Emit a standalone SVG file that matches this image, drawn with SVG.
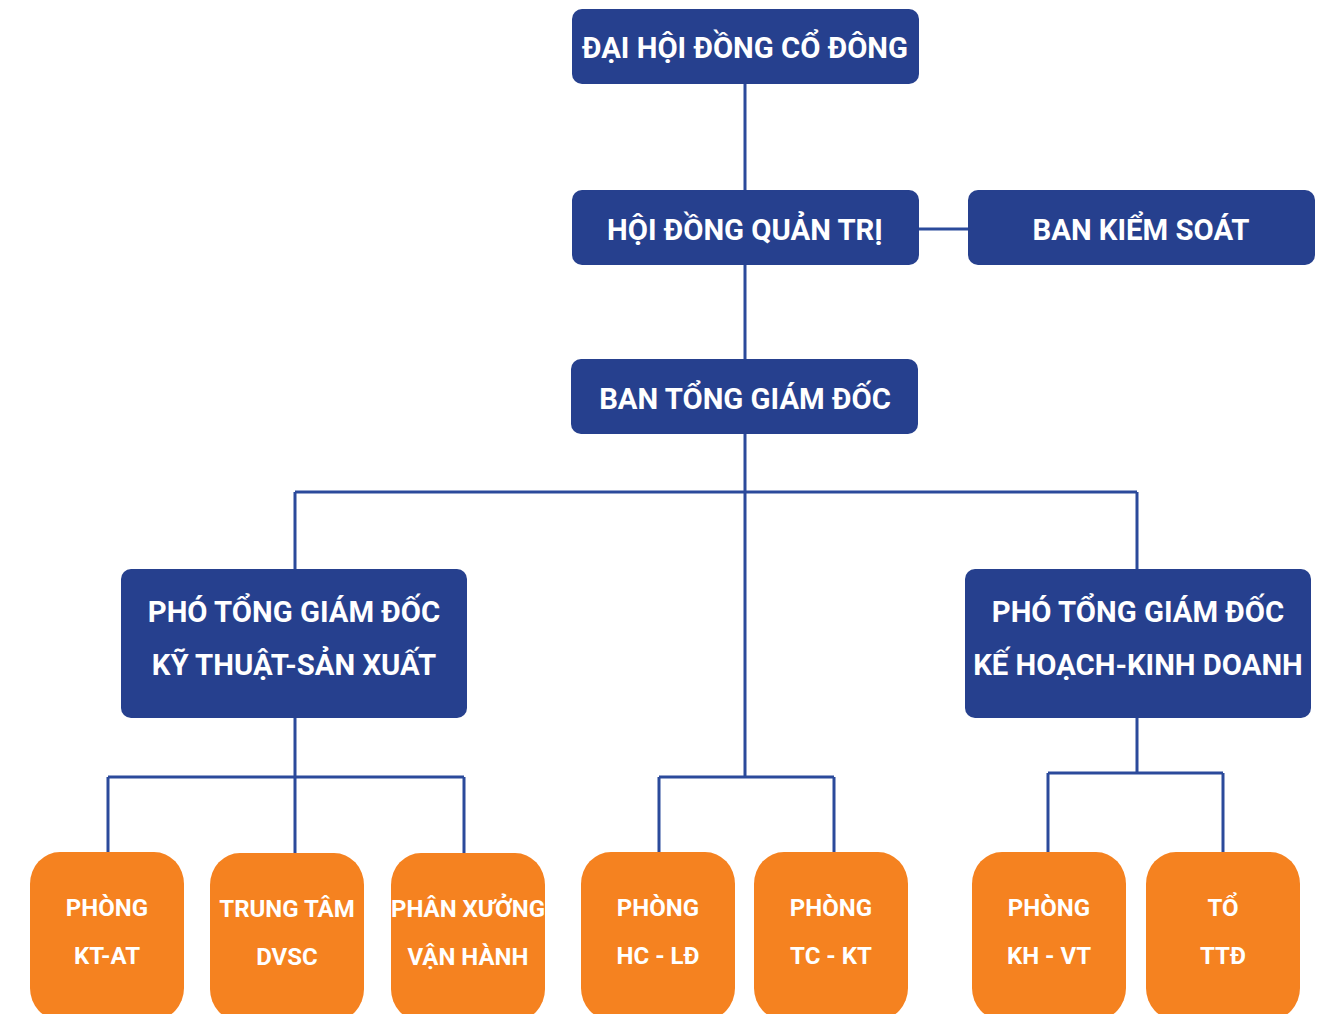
<svg xmlns="http://www.w3.org/2000/svg" width="1322" height="1014" viewBox="0 0 1322 1014">
<style>
.b{fill:#26408E}
.o{fill:#F58220}
.t{font-family:Roboto,"Liberation Sans",sans-serif;font-weight:bold;fill:#fff;text-anchor:middle}
.tb{font-size:29.3px}
.to{font-size:24px}
.c{fill:none;stroke:#2B4A9B;stroke-width:3}
</style>
<rect width="1322" height="1014" fill="#fff"/>
<g id="connectors">
<path class="c" d="M745 84V190M745 265V359M919 229H968M745 434V777M295 492H1137M295 492V569M1137 492V569"/>
<path class="c" d="M295 718V853M108 777H464M108 777V853M464 777V853"/>
<path class="c" d="M659 777H834M659 777V852M834 777V852"/>
<path class="c" d="M1137 718V773M1048 773H1223M1048 773V852M1223 773V852"/>
</g>
<g id="dhdcd"><rect class="b" x="572" y="9" width="347" height="75" rx="10"/><text class="t tb" x="745" y="58">ĐẠI HỘI ĐỒNG CỔ ĐÔNG</text></g>
<g id="hdqt"><rect class="b" x="572" y="190" width="347" height="75" rx="10"/><text class="t tb" x="745" y="240">HỘI ĐỒNG QUẢN TRỊ</text></g>
<g id="bks"><rect class="b" x="968" y="190" width="347" height="75" rx="10"/><text class="t tb" x="1141" y="240">BAN KIỂM SOÁT</text></g>
<g id="btgd"><rect class="b" x="571" y="359" width="347" height="75" rx="10"/><text class="t tb" x="745" y="409">BAN TỔNG GIÁM ĐỐC</text></g>
<g id="ptgd-ktsx"><rect class="b" x="121" y="569" width="346" height="149" rx="10"/><text class="t tb" x="294" y="622">PHÓ TỔNG GIÁM ĐỐC</text><text class="t tb" x="294" y="675">KỸ THUẬT-SẢN XUẤT</text></g>
<g id="ptgd-khkd"><rect class="b" x="965" y="569" width="346" height="149" rx="10"/><text class="t tb" x="1138" y="622">PHÓ TỔNG GIÁM ĐỐC</text><text class="t tb" x="1138" y="675">KẾ HOẠCH-KINH DOANH</text></g>
<g id="ktat"><rect class="o" x="30" y="852" width="154" height="168" rx="30" ry="32"/><text class="t to" x="107" y="916">PHÒNG</text><text class="t to" x="107" y="964">KT-AT</text></g>
<g id="dvsc"><rect class="o" x="210" y="853" width="154" height="168" rx="30" ry="32"/><text class="t to" x="287" y="917">TRUNG TÂM</text><text class="t to" x="287" y="965">DVSC</text></g>
<g id="pxvh"><rect class="o" x="391" y="853" width="154" height="168" rx="30" ry="32"/><text class="t to" x="468" y="917">PHÂN XƯỞNG</text><text class="t to" x="468" y="965">VẬN HÀNH</text></g>
<g id="hcld"><rect class="o" x="581" y="852" width="154" height="168" rx="30" ry="32"/><text class="t to" x="658" y="916">PHÒNG</text><text class="t to" x="658" y="964">HC - LĐ</text></g>
<g id="tckt"><rect class="o" x="754" y="852" width="154" height="168" rx="30" ry="32"/><text class="t to" x="831" y="916">PHÒNG</text><text class="t to" x="831" y="964">TC - KT</text></g>
<g id="khvt"><rect class="o" x="972" y="852" width="154" height="168" rx="30" ry="32"/><text class="t to" x="1049" y="916">PHÒNG</text><text class="t to" x="1049" y="964">KH - VT</text></g>
<g id="ttd"><rect class="o" x="1146" y="852" width="154" height="168" rx="30" ry="32"/><text class="t to" x="1223" y="916">TỔ</text><text class="t to" x="1223" y="964">TTĐ</text></g>
</svg>
